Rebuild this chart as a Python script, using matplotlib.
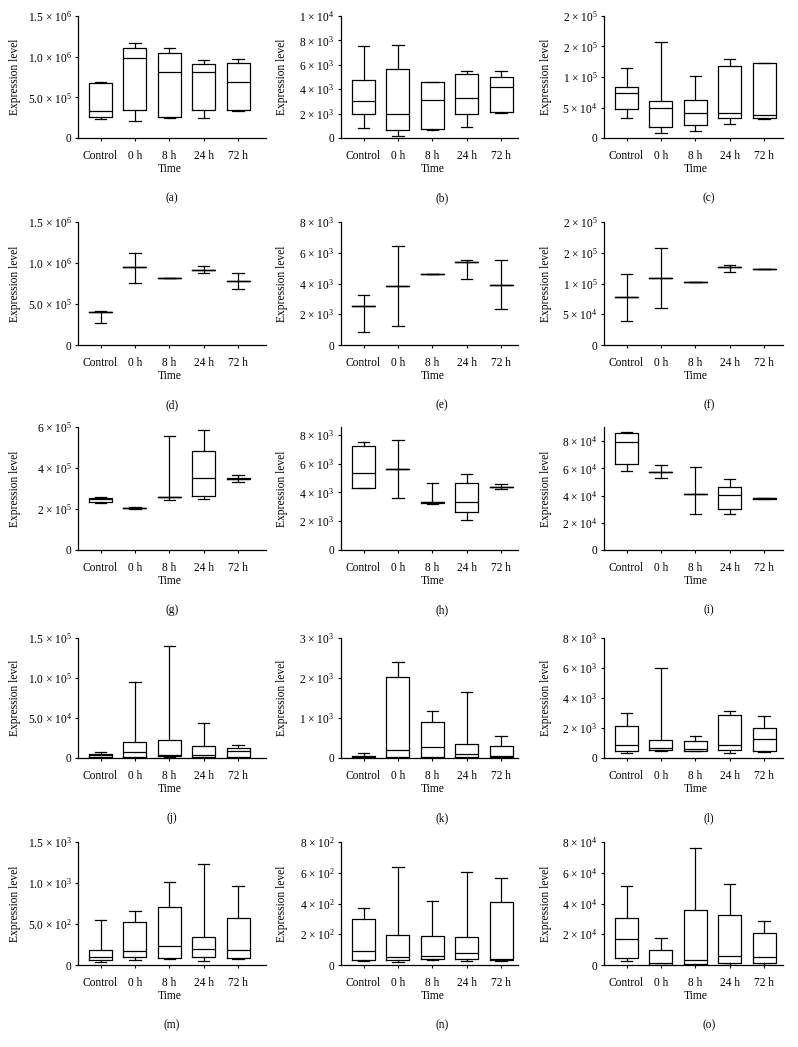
import matplotlib
matplotlib.use("Agg")
import matplotlib.pyplot as plt

plt.rcParams['font.family'] = ['Liberation Serif', 'DejaVu Serif']
plt.rcParams['mathtext.fontset'] = 'custom'
plt.rcParams['mathtext.rm'] = 'Liberation Serif'
plt.rcParams['mathtext.it'] = 'Liberation Serif:italic'

categories = ["Control", "0 h", "8 h", "24 h", "72 h"]

# each entry: [whisker low, Q1, median, Q3, whisker high] per category
a_stats = [[0.232e6, 0.256e6, 0.333e6, 0.679e6, 0.691e6],
           [0.203e6, 0.350e6, 0.984e6, 1.102e6, 1.163e6],
           [0.252e6, 0.264e6, 0.813e6, 1.049e6, 1.106e6],
           [0.252e6, 0.350e6, 0.809e6, 0.911e6, 0.955e6],
           [0.333e6, 0.350e6, 0.687e6, 0.923e6, 0.967e6]]
b_stats = [[0.79e3, 2.00e3, 3.07e3, 4.79e3, 7.51e3],
           [0.19e3, 0.68e3, 1.97e3, 5.62e3, 7.59e3],
           [0.66e3, 0.71e3, 3.15e3, 4.63e3, 4.63e3],
           [0.93e3, 2.00e3, 3.29e3, 5.23e3, 5.48e3],
           [2.03e3, 2.14e3, 4.16e3, 5.01e3, 5.48e3]]
c_stats = [[3.25e4, 4.82e4, 7.32e4, 8.35e4, 11.44e4],
           [0.76e4, 1.84e4, 4.99e4, 6.12e4, 15.66e4],
           [1.19e4, 2.11e4, 4.07e4, 6.23e4, 10.19e4],
           [2.28e4, 3.31e4, 4.07e4, 11.82e4, 12.95e4],
           [3.09e4, 3.36e4, 3.79e4, 12.30e4, 12.36e4]]
d_stats = [[0.265e6, 0.404e6, 0.404e6, 0.404e6, 0.420e6],
           [0.754e6, 0.946e6, 0.946e6, 0.946e6, 1.117e6],
           [0.815e6, 0.815e6, 0.815e6, 0.815e6, 0.815e6],
           [0.876e6, 0.913e6, 0.913e6, 0.913e6, 0.958e6],
           [0.689e6, 0.783e6, 0.783e6, 0.783e6, 0.872e6]]
e_stats = [[0.87e3, 2.52e3, 2.52e3, 2.52e3, 3.24e3],
           [1.22e3, 3.83e3, 3.83e3, 3.83e3, 6.41e3],
           [4.65e3, 4.65e3, 4.65e3, 4.65e3, 4.65e3],
           [4.30e3, 5.37e3, 5.37e3, 5.37e3, 5.54e3],
           [2.35e3, 3.93e3, 3.93e3, 3.93e3, 5.54e3]]
f_stats = [[3.86e4, 7.83e4, 7.83e4, 7.83e4, 11.47e4],
           [5.98e4, 10.87e4, 10.87e4, 10.87e4, 15.76e4],
           [10.22e4, 10.22e4, 10.22e4, 10.22e4, 10.22e4],
           [11.85e4, 12.66e4, 12.66e4, 12.66e4, 13.04e4],
           [12.28e4, 12.34e4, 12.34e4, 12.34e4, 12.39e4]]
g_stats = [[2.30e5, 2.36e5, 2.51e5, 2.54e5, 2.58e5],
           [2.02e5, 2.04e5, 2.05e5, 2.07e5, 2.09e5],
           [2.45e5, 2.58e5, 2.60e5, 2.60e5, 5.56e5],
           [2.49e5, 2.61e5, 3.51e5, 4.81e5, 5.87e5],
           [3.31e5, 3.45e5, 3.48e5, 3.50e5, 3.64e5]]
h_stats = [[4.29e3, 4.34e3, 5.36e3, 7.24e3, 7.54e3],
           [3.60e3, 5.61e3, 5.61e3, 5.61e3, 7.63e3],
           [3.18e3, 3.30e3, 3.32e3, 3.32e3, 4.66e3],
           [2.11e3, 2.62e3, 3.32e3, 4.66e3, 5.27e3],
           [4.22e3, 4.41e3, 4.41e3, 4.41e3, 4.59e3]]
i_stats = [[5.84e4, 6.33e4, 7.98e4, 8.60e4, 8.69e4],
           [5.27e4, 5.76e4, 5.76e4, 5.76e4, 6.23e4],
           [2.64e4, 4.09e4, 4.09e4, 4.09e4, 6.08e4],
           [2.64e4, 3.00e4, 4.06e4, 4.66e4, 5.25e4],
           [3.72e4, 3.76e4, 3.79e4, 3.81e4, 3.84e4]]
j_stats = [[0.04e4, 0.08e4, 0.33e4, 0.54e4, 0.75e4],
           [0.04e4, 0.17e4, 0.75e4, 2.03e4, 9.45e4],
           [0.17e4, 0.25e4, 0.33e4, 2.24e4, 14.0e4],
           [0.04e4, 0.08e4, 0.37e4, 1.45e4, 4.43e4],
           [0.04e4, 0.08e4, 0.83e4, 1.28e4, 1.57e4]]
k_stats = [[0.008e3, 0.017e3, 0.033e3, 0.050e3, 0.133e3],
           [0.008e3, 0.025e3, 0.200e3, 2.03e3, 2.39e3],
           [0.008e3, 0.017e3, 0.266e3, 0.89e3, 1.18e3],
           [0.008e3, 0.025e3, 0.091e3, 0.34e3, 1.65e3],
           [0.008e3, 0.017e3, 0.042e3, 0.30e3, 0.557e3]]
l_stats = [[0.31e3, 0.44e3, 0.84e3, 2.11e3, 3.02e3],
           [0.49e3, 0.51e3, 0.64e3, 1.18e3, 6.01e3],
           [0.44e3, 0.47e3, 0.58e3, 1.11e3, 1.44e3],
           [0.33e3, 0.51e3, 0.89e3, 2.90e3, 3.15e3],
           [0.40e3, 0.44e3, 1.24e3, 2.02e3, 2.79e3]]
m_stats = [[0.04e3, 0.06e3, 0.10e3, 0.18e3, 0.55e3],
           [0.06e3, 0.10e3, 0.17e3, 0.53e3, 0.66e3],
           [0.07e3, 0.08e3, 0.23e3, 0.71e3, 1.01e3],
           [0.05e3, 0.10e3, 0.19e3, 0.34e3, 1.23e3],
           [0.07e3, 0.08e3, 0.18e3, 0.57e3, 0.96e3]]
n_stats = [[0.25e2, 0.30e2, 0.90e2, 3.00e2, 3.70e2],
           [0.20e2, 0.30e2, 0.50e2, 1.95e2, 6.40e2],
           [0.30e2, 0.40e2, 0.60e2, 1.90e2, 4.15e2],
           [0.25e2, 0.40e2, 0.75e2, 1.80e2, 6.05e2],
           [0.25e2, 0.35e2, 0.40e2, 4.10e2, 5.65e2]]
o_stats = [[0.25e4, 0.45e4, 1.70e4, 3.05e4, 5.15e4],
           [0.02e4, 0.03e4, 0.10e4, 1.00e4, 1.75e4],
           [0.02e4, 0.05e4, 0.35e4, 3.60e4, 7.60e4],
           [0.03e4, 0.10e4, 0.60e4, 3.25e4, 5.30e4],
           [0.03e4, 0.15e4, 0.55e4, 2.10e4, 2.85e4]]

# y ticks and their labels
t6 = [0, 5e5, 1e6, 1.5e6]
t6_labels = ["0", "5.0 × 10$^{5}$", "1.0 × 10$^{6}$", "1.5 × 10$^{6}$"]
tb = [0, 2e3, 4e3, 6e3, 8e3, 1e4]
tb_labels = ["0", "2 × 10$^{3}$", "4 × 10$^{3}$", "6 × 10$^{3}$", "8 × 10$^{3}$", "1 × 10$^{4}$"]
tc = [0, 5e4, 1e5, 1.5e5, 2e5]
tc_labels = ["0", "5 × 10$^{4}$", "1 × 10$^{5}$", "2 × 10$^{5}$", "2 × 10$^{5}$"]
t8k = [0, 2e3, 4e3, 6e3, 8e3]
t8k_labels = ["0", "2 × 10$^{3}$", "4 × 10$^{3}$", "6 × 10$^{3}$", "8 × 10$^{3}$"]
tg = [0, 2e5, 4e5, 6e5]
tg_labels = ["0", "2 × 10$^{5}$", "4 × 10$^{5}$", "6 × 10$^{5}$"]
t8e4 = [0, 2e4, 4e4, 6e4, 8e4]
t8e4_labels = ["0", "2 × 10$^{4}$", "4 × 10$^{4}$", "6 × 10$^{4}$", "8 × 10$^{4}$"]
tj = [0, 5e4, 1e5, 1.5e5]
tj_labels = ["0", "5.0 × 10$^{4}$", "1.0 × 10$^{5}$", "1.5 × 10$^{5}$"]
tk = [0, 1e3, 2e3, 3e3]
tk_labels = ["0", "1 × 10$^{3}$", "2 × 10$^{3}$", "3 × 10$^{3}$"]
tm = [0, 5e2, 1e3, 1.5e3]
tm_labels = ["0", "5.0 × 10$^{2}$", "1.0 × 10$^{3}$", "1.5 × 10$^{3}$"]
tn = [0, 2e2, 4e2, 6e2, 8e2]
tn_labels = ["0", "2 × 10$^{2}$", "4 × 10$^{2}$", "6 × 10$^{2}$", "8 × 10$^{2}$"]

panel_letters = ["(a)", "(b)", "(c)", "(d)", "(e)", "(f)", "(g)", "(h)", "(i)",
                 "(j)", "(k)", "(l)", "(m)", "(n)", "(o)"]
panel_stats = [a_stats, b_stats, c_stats, d_stats, e_stats, f_stats, g_stats, h_stats,
               i_stats, j_stats, k_stats, l_stats, m_stats, n_stats, o_stats]
panel_ticks = [(t6, t6_labels), (tb, tb_labels), (tc, tc_labels),
               (t6, t6_labels), (t8k, t8k_labels), (tc, tc_labels),
               (tg, tg_labels), (t8k, t8k_labels), (t8e4, t8e4_labels),
               (tj, tj_labels), (tk, tk_labels), (t8k, t8k_labels),
               (tm, tm_labels), (tn, tn_labels), (t8e4, t8e4_labels)]
panel_ytop = [1.5e6, 1e4, 2e5, 1.5e6, 8e3, 2e5, 6e5, 8.55e3, 9.05e4,
              1.5e5, 3e3, 8e3, 1.5e3, 8e2, 8e4]

W, H = 798, 1047
fig = plt.figure(figsize=(W / 100, H / 100), dpi=100)

col_lr = [(78, 266), (341, 518), (604, 783)]
row_tb = [(16, 138), (222, 345), (427, 550), (638, 758), (842, 965)]
ylab_x = [15, 282, 546]
letter_x = [172, 442, 709]
spacing = 34.4
first_off = 22.5
fs = 8.3

for idx in range(15):
    r, c = divmod(idx, 3)
    left, right = col_lr[c]
    top, bottom = row_tb[r]
    ax = fig.add_axes([left / W, 1 - bottom / H, (right - left) / W, (bottom - top) / H])
    stats = [dict(whislo=s[0], q1=s[1], med=s[2], q3=s[3], whishi=s[4], label=cat)
             for s, cat in zip(panel_stats[idx], categories)]
    lp = dict(color='black', linewidth=0.9)
    ax.bxp(stats, positions=range(5), widths=0.67, showfliers=False,
           boxprops=lp, whiskerprops=lp, capprops=lp, medianprops=lp)
    ax.set_xlim(-first_off / spacing, (right - left - first_off) / spacing)
    ax.set_ylim(0, panel_ytop[idx])
    ticks, labels = panel_ticks[idx]
    ax.set_yticks(ticks)
    ax.set_yticklabels(labels)
    ax.set_xticks(range(5))
    ax.set_xticklabels(categories)
    for s in ['top', 'right']:
        ax.spines[s].set_visible(False)
    for s in ['left', 'bottom']:
        ax.spines[s].set_linewidth(0.9)
    ax.tick_params(axis='both', direction='out', length=2.5, width=0.8, labelsize=fs)
    ax.tick_params(axis='y', pad=2)
    ax.tick_params(axis='x', pad=6)
    # axis texts
    cx = left + first_off + 2 * spacing
    fig.text(cx / W, 1 - (bottom + 31) / H, "Time", ha='center', va='center', fontsize=fs)
    fig.text(ylab_x[c] / W, 1 - ((top + bottom) / 2) / H, "Expression level",
             rotation=90, ha='center', va='center', fontsize=fs)
    fig.text(letter_x[c] / W, 1 - (bottom + 60) / H, panel_letters[idx],
             ha='center', va='center', fontsize=fs)

fig.savefig("out.png", dpi=100)
